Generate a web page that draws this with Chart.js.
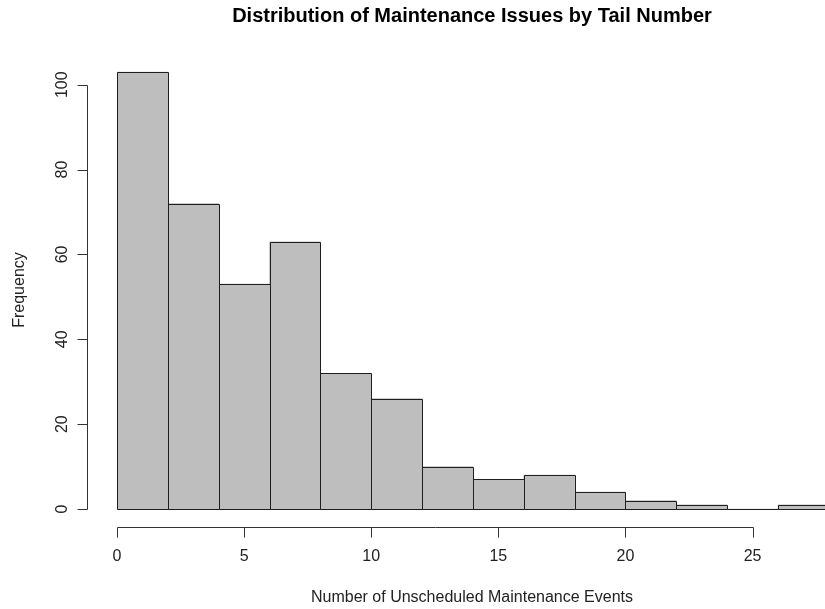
<!DOCTYPE html>
<html>
<head>
<meta charset="utf-8">
<title>Distribution of Maintenance Issues by Tail Number</title>
<script src="https://cdn.jsdelivr.net/npm/chart.js@4/dist/chart.umd.min.js"></script>
<style>
  html, body { margin: 0; padding: 0; background: #ffffff; overflow: hidden; }
  #wrap { width: 825px; height: 609px; position: relative; }
</style>
</head>
<body>
<div id="wrap"><canvas id="hist" width="825" height="609"></canvas></div>
<script>
// Histogram bins: left edge of each bin and the bin width
const binStarts = [0, 2, 4, 6, 8, 10, 12, 14, 16, 18, 20, 22, 24, 26];
const binWidth = 2;
// Number of tail numbers falling in each bin
const frequencies = [103, 72, 53, 63, 32, 26, 10, 7, 8, 4, 2, 1, 0, 1];

// Axis tick values
const xTicks = [0, 5, 10, 15, 20, 25];
const yTicks = [0, 20, 40, 60, 80, 100];

// Text
const chartTitle = 'Distribution of Maintenance Issues by Tail Number';
const xTitle = 'Number of Unscheduled Maintenance Events';
const yTitle = 'Frequency';

const FONT = '"Liberation Sans", Arial, Helvetica, sans-serif';
const INK = '#222222';
const AXIS = '#333333';

const points = binStarts.map((s, i) => ({ x: s + binWidth / 2, y: frequencies[i] }));

// Outline every bar with a single 1px stroke (shared edges drawn once)
const barOutline = {
  id: 'barOutline',
  afterDatasetsDraw(chart) {
    const ctx = chart.ctx;
    const meta = chart.getDatasetMeta(0);
    ctx.save();
    ctx.strokeStyle = '#1e1e1e';
    ctx.lineWidth = 1;
    meta.data.forEach(bar => {
      const p = bar.getProps(['x', 'y', 'base', 'width'], true);
      const l = Math.round(p.x - p.width / 2) + 0.5;
      const r = Math.round(p.x + p.width / 2) + 0.5;
      const t = Math.round(p.y) + 0.5;
      const b = Math.round(p.base) + 0.5;
      ctx.beginPath();
      ctx.rect(l, t, r - l, b - t);
      ctx.stroke();
    });
    ctx.restore();
  }
};

// Detached base-graphics style axes, titles and labels
const baseAxes = {
  id: 'baseAxes',
  afterDraw(chart) {
    const ctx = chart.ctx;
    const xs = chart.scales.x;
    const ys = chart.scales.y;
    const area = chart.chartArea;
    ctx.save();
    ctx.strokeStyle = AXIS;
    ctx.lineWidth = 1;
    ctx.fillStyle = INK;

    // y axis
    const yAxisX = Math.round(xs.getPixelForValue(0)) - 29.5;
    const y0 = Math.round(ys.getPixelForValue(yTicks[0])) + 0.5;
    const y1 = Math.round(ys.getPixelForValue(yTicks[yTicks.length - 1])) + 0.5;
    ctx.beginPath();
    ctx.moveTo(yAxisX, y0);
    ctx.lineTo(yAxisX, y1);
    yTicks.forEach(v => {
      const py = Math.round(ys.getPixelForValue(v)) + 0.5;
      ctx.moveTo(yAxisX, py);
      ctx.lineTo(yAxisX - 10, py);
    });
    ctx.stroke();

    ctx.font = '16px ' + FONT;
    ctx.textAlign = 'center';
    ctx.textBaseline = 'middle';
    yTicks.forEach(v => {
      const py = ys.getPixelForValue(v);
      ctx.save();
      ctx.translate(yAxisX - 25, py);
      ctx.rotate(-Math.PI / 2);
      ctx.fillText(String(v), 0, 0);
      ctx.restore();
    });

    // x axis
    const xAxisY = Math.round(ys.getPixelForValue(0)) + 18.5;
    const x0 = Math.round(xs.getPixelForValue(xTicks[0])) + 0.5;
    const x1 = Math.round(xs.getPixelForValue(xTicks[xTicks.length - 1])) + 0.5;
    ctx.beginPath();
    ctx.moveTo(x0, xAxisY);
    ctx.lineTo(x1, xAxisY);
    xTicks.forEach(v => {
      const px = Math.round(xs.getPixelForValue(v)) + 0.5;
      ctx.moveTo(px, xAxisY);
      ctx.lineTo(px, xAxisY + 10);
    });
    ctx.stroke();

    xTicks.forEach(v => {
      ctx.fillText(String(v), xs.getPixelForValue(v), xAxisY + 29);
    });

    // axis titles
    const midX = (area.left + area.right) / 2;
    ctx.font = '16px ' + FONT;
    ctx.fillText(xTitle, midX + 1, xAxisY + 70);
    ctx.save();
    ctx.translate(20, 290);
    ctx.rotate(-Math.PI / 2);
    ctx.fillText(yTitle, 0, 0);
    ctx.restore();

    // main title
    ctx.fillStyle = '#000000';
    ctx.font = 'bold 20px ' + FONT;
    ctx.fillText(chartTitle, midX + 1, 16);
    ctx.restore();
  }
};

new Chart(document.getElementById('hist'), {
  type: 'bar',
  data: {
    datasets: [{
      label: yTitle,
      data: points,
      backgroundColor: '#BEBEBE',
      borderWidth: 0,
      barPercentage: 1.0,
      categoryPercentage: 1.0
    }]
  },
  options: {
    responsive: false,
    devicePixelRatio: 1,
    animation: false,
    layout: { padding: { left: 117, right: 0, top: 42.3, bottom: 100 } },
    plugins: {
      legend: { display: false },
      title: { display: false },
      tooltip: { enabled: false }
    },
    scales: {
      x: {
        type: 'linear',
        min: 0,
        max: 27.85,
        offset: false,
        display: false,
        afterBuildTicks: scale => { scale.ticks = binStarts.map(v => ({ value: v })); }
      },
      y: {
        min: 0,
        max: 110,
        display: false
      }
    }
  },
  plugins: [barOutline, baseAxes]
});
</script>
</body>
</html>
